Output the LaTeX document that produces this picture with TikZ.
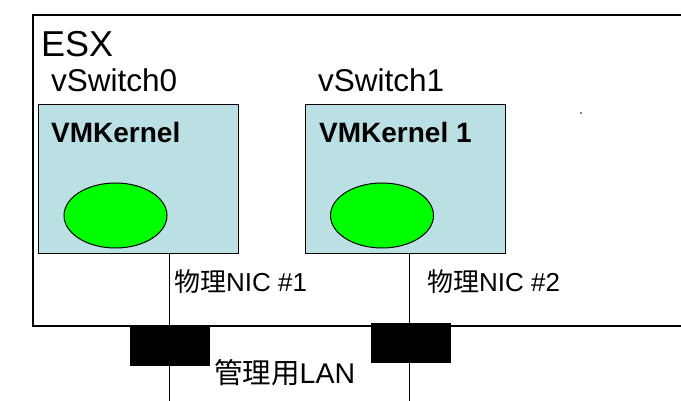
\documentclass[tikz,border=0pt]{standalone}
\usepackage{fontspec}
\setmainfont{Liberation Sans}
\newfontfamily\jfont{Noto Sans CJK JP}
\usetikzlibrary{shapes.geometric}
\definecolor{kblue}{HTML}{BBE0E3}
\definecolor{kgreen}{HTML}{00FF00}

\begin{document}
\begin{tikzpicture}[x=1pt,y=-1pt]
				\tikzstyle{kernel}=[draw,fill=kblue,line width=1.2pt,minimum width=200pt,minimum height=149pt,inner sep=0pt,anchor=north west]
				\tikzstyle{nicball}=[draw,ellipse,fill=kgreen,line width=1pt,minimum width=103pt,minimum height=65pt,inner sep=0pt]
				\tikzstyle{port}=[fill=black,draw,minimum width=79pt,minimum height=39pt,inner sep=0pt]
				\tikzstyle{lbl}=[anchor=base west,inner sep=0pt]

				\useasboundingbox (0,0) rectangle (681,401);

				\draw[line width=2pt] (33,15) rectangle (683,325.5);
				\fill (581,113) circle (0.8pt);

				\node [kernel] (k0) at (38,104) {};
				\node [kernel] (k1) at (305,104) {};

				\node [nicball] (e0) at (115.5,215.5) {};
				\node [nicball] (e1) at (382,215.5) {};

				\coordinate (lan1) at (169,401);
				\coordinate (lan2) at (409,401);

				\draw[line width=1pt] (lan1 |- k0.south) -- (lan1);
				\draw[line width=1pt] (lan2 |- k1.south) -- (lan2);

				\node [port] (p1) at (170,345.5) {};
				\node [port] (p2) at (410.5,343) {};

				\node [lbl,font=\fontsize{36}{38}\selectfont] (esx) at (41,57) {ESX};
				\node [lbl,font=\fontsize{31.5}{33}\selectfont] (vsw0) at (51,92) {vSwitch0};
				\node [lbl,font=\fontsize{31.5}{33}\selectfont] (vsw1) at (318,92) {vSwitch1};
				\node [lbl,font=\fontsize{28}{30}\selectfont\bfseries] (k0l) at (51,143) {VMKernel};
				\node [lbl,font=\fontsize{28}{30}\selectfont\bfseries] (k1l) at (319,143) {VMKernel 1};

				\node [lbl,font=\fontsize{26}{28}\selectfont] (nic1) at (174,291) {{\jfont 物理}NIC \#1};
				\node [lbl,font=\fontsize{26}{28}\selectfont] (nic2) at (427,291) {{\jfont 物理}NIC \#2};
				\node [lbl,font=\fontsize{28.5}{30}\selectfont] (lan) at (214,383) {{\jfont 管理用}LAN};

\end{tikzpicture}
\end{document}
